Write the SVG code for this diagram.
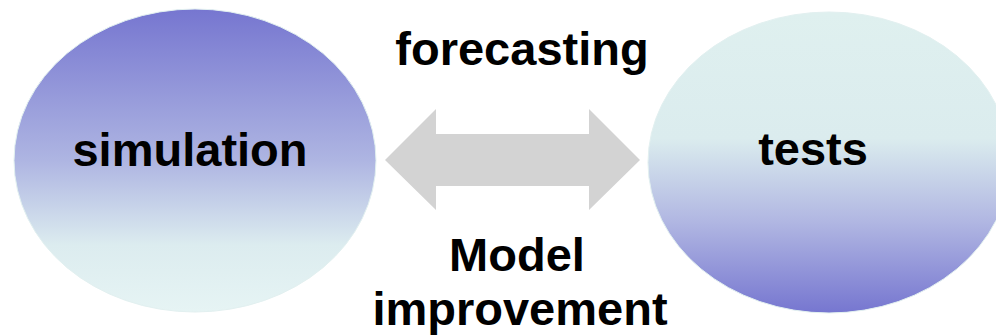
<svg xmlns="http://www.w3.org/2000/svg" width="996" height="336" viewBox="0 0 996 336">
<defs>
<linearGradient id="gSim" x1="0" y1="0" x2="0" y2="1">
<stop offset="0" stop-color="#7676d0"/>
<stop offset="0.5" stop-color="#aeb5e2"/>
<stop offset="0.78" stop-color="#dcecef"/>
<stop offset="1" stop-color="#e6f4f4"/>
</linearGradient>
<linearGradient id="gTest" x1="0" y1="0" x2="0" y2="1">
<stop offset="0" stop-color="#dff0ef"/>
<stop offset="0.42" stop-color="#dbecee"/>
<stop offset="0.7" stop-color="#b0b6e2"/>
<stop offset="1" stop-color="#7676d0"/>
</linearGradient>
<style>
.lbl{font-family:"Liberation Sans",Arial,sans-serif;font-weight:bold;font-size:47px;fill:#000;text-anchor:middle}
.node{stroke:#e2f0f0;stroke-width:1}
</style>
</defs>
<rect width="996" height="336" fill="#fff"/>
<g id="connectors">
<polygon id="double-arrow" points="385,160 436,109 436,134 589,134 589,109 640,160 589,210 589,186 436,186 436,210" fill="#d3d3d3"/>
<text class="lbl" x="522" y="65">forecasting</text>
<text class="lbl" x="517" y="271">Model</text>
<text class="lbl" x="520" y="325">improvement</text>
</g>
<g id="simulation">
<ellipse class="node" cx="195" cy="160.5" rx="181" ry="151.5" fill="url(#gSim)"/>
<text class="lbl" x="190" y="166">simulation</text>
</g>
<g id="tests">
<ellipse class="node" cx="829" cy="162.5" rx="181" ry="150.5" fill="url(#gTest)"/>
<text class="lbl" x="813" y="165">tests</text>
</g>
</svg>
